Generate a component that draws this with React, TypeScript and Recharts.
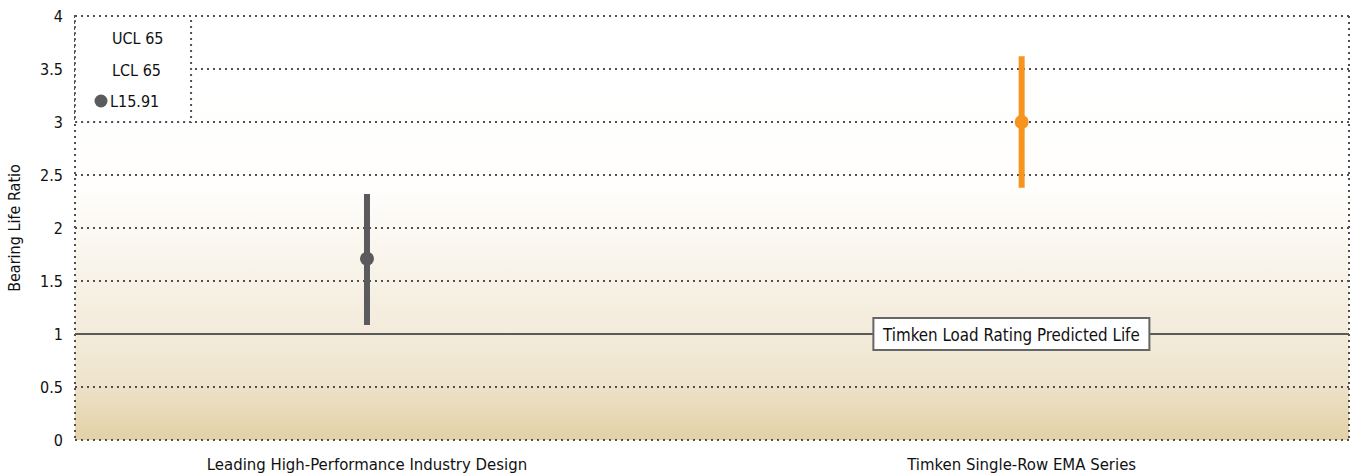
import {
  ComposedChart,
  Scatter,
  ErrorBar,
  XAxis,
  YAxis,
  CartesianGrid,
  ReferenceLine,
  ReferenceArea,
} from "recharts";

const categories = ["Leading High-Performance Industry Design", "Timken Single-Row EMA Series"];
const lifeRatio = [1.71, 3.0];
const ucl65 = [2.32, 3.62];
const lcl65 = [1.085, 2.38];
const seriesColors = ["#5b5b5d", "#f7941d"];
const yTicks = [0, 0.5, 1, 1.5, 2, 2.5, 3, 3.5, 4];
const legendLabels = ["UCL 65", "LCL 65", "L15.91"];
const predictedLife = 1;
const predictedLifeLabel = "Timken Load Rating Predicted Life";

const FONT = '"Liberation Sans Narrow", "DejaVu Sans Condensed", sans-serif';
const TEXT = "#111111";
const GRID = "#505050";
const X_DOMAIN: [number, number] = [-0.446, 1.5];
const MARGIN = { top: 16, right: 3, bottom: 5, left: 0 };
const CHART_H = 475;
const X_AXIS_H = 30;

const points = categories.map((name, i) => ({
  name,
  x: i,
  y: lifeRatio[i],
  err: [lifeRatio[i] - lcl65[i], ucl65[i] - lifeRatio[i]],
}));

const LegendBox = (props: any) => {
  const vb = props.viewBox;
  if (!vb) return null;
  return (
    <g fontFamily={FONT} fontSize={16} fill={TEXT}>
      <text x={vb.x + 37} y={vb.y + 22} dominantBaseline="central">{legendLabels[0]}</text>
      <text x={vb.x + 37} y={vb.y + 54} dominantBaseline="central">{legendLabels[1]}</text>
      <circle cx={vb.x + 26} cy={vb.y + 85} r={6.5} fill={seriesColors[0]} />
      <text x={vb.x + 35} y={vb.y + 85} dominantBaseline="central">{legendLabels[2]}</text>
    </g>
  );
};

const PredictedLifeLabel = (props: any) => {
  const vb = props.viewBox;
  if (!vb) return null;
  const cx = vb.x + vb.width * 0.735;
  return (
    <g>
      <rect x={cx - 138} y={vb.y - 16} width={276} height={32} fill="#ffffff" stroke="#666666" strokeWidth={2} />
      <text x={cx} y={vb.y + 1} textAnchor="middle" dominantBaseline="central" fontFamily={FONT} fontSize={16.8} fill={TEXT}>
        {predictedLifeLabel}
      </text>
    </g>
  );
};

const YLabel = () => {
  const cy = (MARGIN.top + (CHART_H - MARGIN.bottom - X_AXIS_H)) / 2;
  return (
    <text x={14} y={cy} transform={`rotate(-90, 14, ${cy})`} textAnchor="middle" dominantBaseline="central" fontFamily={FONT} fontSize={16} fill={TEXT}>
      Bearing Life Ratio
    </text>
  );
};

export default function App() {
  return (
    <div style={{ fontFamily: FONT }}>
      <style>{"body{margin:0}"}</style>
      <ComposedChart width={1352} height={CHART_H} margin={MARGIN}>
        <defs>
          <linearGradient id="bgFade" x1="0" y1="0" x2="0" y2="1">
            <stop offset="0%" stopColor="#ffffff" />
            <stop offset="40%" stopColor="#fffefd" />
            <stop offset="55%" stopColor="#faf6ee" />
            <stop offset="75%" stopColor="#f3ebda" />
            <stop offset="87%" stopColor="#eee4cc" />
            <stop offset="88%" stopColor="#ece1c6" />
            <stop offset="100%" stopColor="#e2d1a6" />
          </linearGradient>
        </defs>

        <CartesianGrid
          stroke={GRID}
          strokeDasharray="2 4"
          strokeWidth={2}
          fill="url(#bgFade)"
          fillOpacity={1}
          verticalCoordinatesGenerator={({ offset }: any) => [offset.left, offset.left + offset.width]}
        />

        <XAxis
          type="number"
          dataKey="x"
          domain={X_DOMAIN}
          allowDataOverflow
          ticks={[0, 1]}
          tickFormatter={(i: number) => categories[i] ?? ""}
          axisLine={false}
          tickLine={false}
          tickSize={0}
          tickMargin={18}
          height={X_AXIS_H}
          tick={{ fill: TEXT, fontSize: 16.6, fontFamily: FONT }}
        />
        <YAxis
          type="number"
          domain={[0, 4]}
          ticks={yTicks}
          axisLine={false}
          tickLine={false}
          tickSize={0}
          tickMargin={12}
          width={75}
          tick={{ fill: TEXT, fontSize: 16, fontFamily: FONT }}
          label={<YLabel />}
        />

        <ReferenceArea
          x1={X_DOMAIN[0]}
          x2={-0.2687}
          y1={3}
          y2={4}
          fill="#ffffff"
          fillOpacity={1}
          stroke={GRID}
          strokeDasharray="2 4"
          strokeWidth={2}
          label={<LegendBox />}
        />

        <ReferenceLine y={predictedLife} stroke="#5a5a5a" strokeWidth={2} label={<PredictedLifeLabel />} />

        {points.map((p, i) => (
          <Scatter
            key={p.name}
            name={p.name}
            data={[p]}
            dataKey="y"
            fill={seriesColors[i]}
            isAnimationActive={false}
            shape={(s: any) => <circle cx={s.cx} cy={s.cy} r={7} fill={seriesColors[i]} />}
          >
            <ErrorBar dataKey="err" direction="y" width={0} stroke={seriesColors[i]} strokeWidth={6} isAnimationActive={false} />
          </Scatter>
        ))}
      </ComposedChart>
    </div>
  );
}
